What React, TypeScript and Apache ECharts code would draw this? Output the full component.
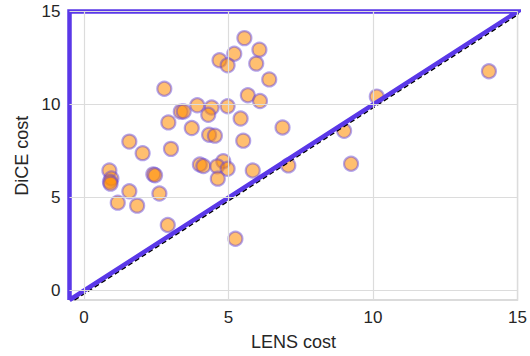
import React, { useEffect, useRef } from "react";
import * as echarts from "echarts";

const lensCost: number[] = [
  2.78, 3.35, 3.45, 2.92, 5.55, 6.07, 5.2, 4.69, 4.97, 5.96,
  6.41, 5.67, 6.09, 4.97, 4.42, 3.92, 4.3, 5.42, 6.87, 3.73,
  4.33, 4.53, 5.51, 1.57, 2.03, 3.01, 0.88, 0.95, 0.9, 0.92,
  2.4, 2.46, 1.57, 2.61, 1.17, 1.84, 2.9, 4.01, 4.13, 4.82,
  4.61, 4.97, 4.63, 5.84, 7.07, 5.24, 14.01, 10.13, 9.0, 9.24,
];
const diceCost: number[] = [
  10.85, 9.62, 9.63, 9.04, 13.57, 12.95, 12.73, 12.38, 12.11, 12.2,
  11.35, 10.5, 10.19, 9.91, 9.84, 9.96, 9.45, 9.25, 8.77, 8.74,
  8.38, 8.33, 8.06, 8.01, 7.39, 7.62, 6.46, 6.03, 5.85, 5.75,
  6.25, 6.2, 5.34, 5.22, 4.73, 4.57, 3.53, 6.78, 6.7, 6.96,
  6.68, 6.55, 6.02, 6.46, 6.73, 2.79, 11.79, 10.43, 8.59, 6.82,
];
const tickValues: number[] = [0, 5, 10, 15];
const axisMin = -0.5;
const axisMax = 15;
const boundaryX: number[] = [-0.5, -0.5, 15, -0.5];
const boundaryY: number[] = [-0.5, 15, 15, -0.5];
const identityX: number[] = [-0.33, 15.17];
const identityY: number[] = [-0.5, 15];

const PURPLE = "#5a38e8";
const FONT = "Liberation Sans, Arial, sans-serif";

export default function App() {
  const ref = useRef<HTMLDivElement>(null);
  useEffect(() => {
    if (!ref.current) return;
    const chart = echarts.init(ref.current, undefined, { renderer: "svg" });
    const gridStyle = { color: "#dcdcdc", width: 1.2 };
    chart.setOption({
      animation: false,
      backgroundColor: "#ffffff",
      grid: {
        left: 69.5,
        right: 12,
        top: 11.5,
        bottom: 53.5,
        show: true,
        borderColor: "#cfcfcf",
        borderWidth: 1.3,
        backgroundColor: "transparent",
      },
      xAxis: {
        type: "value",
        min: axisMin,
        max: axisMax,
        name: "LENS cost",
        nameLocation: "middle",
        nameGap: 33,
        nameTextStyle: { fontSize: 18, color: "#262626", fontFamily: FONT },
        axisLine: { show: false },
        axisTick: { show: false, customValues: tickValues },
        splitLine: { show: false },
        axisLabel: {
          customValues: tickValues,
          fontSize: 17,
          color: "#262626",
          fontFamily: FONT,
          margin: 9,
        },
      },
      yAxis: {
        type: "value",
        min: axisMin,
        max: axisMax,
        name: "DiCE cost",
        nameLocation: "middle",
        nameGap: 39,
        nameTextStyle: { fontSize: 18, color: "#262626", fontFamily: FONT },
        axisLine: { show: false },
        axisTick: { show: false, customValues: tickValues },
        splitLine: { show: false },
        axisLabel: {
          customValues: tickValues,
          fontSize: 17,
          color: "#262626",
          fontFamily: FONT,
          margin: 9,
        },
      },
      series: [
        {
          type: "line",
          data: [],
          z: 1,
          silent: true,
          markLine: {
            silent: true,
            symbol: "none",
            label: { show: false },
            lineStyle: { ...gridStyle, type: "solid" },
            data: [
              ...tickValues.map((v) => ({ xAxis: v })),
              ...tickValues.map((v) => ({ yAxis: v })),
            ],
          },
        },
        {
          type: "scatter",
          z: 2,
          data: lensCost.map((x, i) => [x, diceCost[i]]),
          symbolSize: 14,
          itemStyle: {
            color: "rgba(255,140,0,0.7)",
            borderColor: "rgba(98,70,220,0.6)",
            borderWidth: 2.2,
          },
        },
        {
          type: "line",
          z: 3,
          silent: true,
          symbol: "none",
          data: identityX.map((x, i) => [x, identityY[i]]),
          lineStyle: { color: "#000000", width: 1.6, type: [5, 3] },
        },
        {
          type: "line",
          z: 4,
          silent: true,
          symbol: "none",
          clip: false,
          data: boundaryX.map((x, i) => [x, boundaryY[i]]),
          lineStyle: { color: PURPLE, width: 4.5, join: "miter" },
        },
      ],
    });
    return () => chart.dispose();
  }, []);
  return (
    <div
      ref={ref}
      style={{ position: "fixed", left: 0, top: 0, width: 530, height: 356 }}
    />
  );
}
